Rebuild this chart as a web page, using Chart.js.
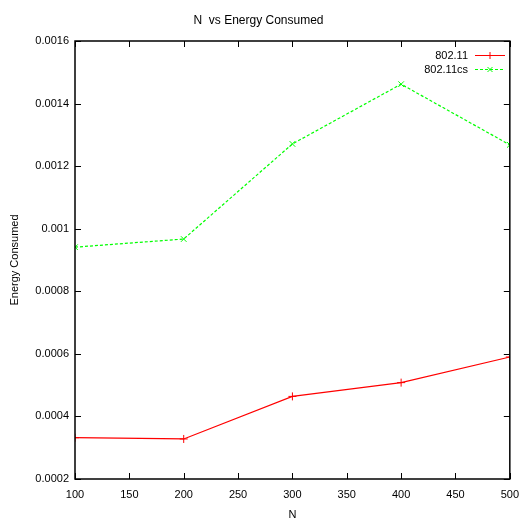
<!DOCTYPE html>
<html>
<head>
<meta charset="utf-8">
<script src="https://cdn.jsdelivr.net/npm/chart.js@4"></script>
<style>
html,body{margin:0;padding:0;background:#fff;}
#wrap{width:528px;height:524px;position:relative;}
</style>
</head>
<body>
<div id="wrap"><canvas id="c" width="528" height="524"></canvas></div>
<script>
const xValues = [100, 200, 300, 400, 500];
const series80211 = [0.000332, 0.000328, 0.000464, 0.000508, 0.000590];
const series80211cs = [0.000941, 0.000967, 0.001271, 0.001462, 0.001268];
const seriesNames = ['802.11', '802.11cs'];
const xTicks = [100, 150, 200, 250, 300, 350, 400, 450, 500];
const yTicks = [0.0002, 0.0004, 0.0006, 0.0008, 0.001, 0.0012, 0.0014, 0.0016];
const yTickLabels = ['0.0002', '0.0004', '0.0006', '0.0008', '0.001', '0.0012', '0.0014', '0.0016'];
const chartTitle = 'N  vs Energy Consumed';
const xTitle = 'N';
const yTitle = 'Energy Consumed';

const FONT = "'Liberation Sans', Arial, sans-serif";

const frame = {
  id: 'frame',
  afterDatasetsDraw(chart) {
    const ctx = chart.ctx;
    const a = chart.chartArea;
    const xs = chart.scales.x, ys = chart.scales.y;
    ctx.save();
    ctx.strokeStyle = '#000';
    ctx.lineWidth = 1;
    ctx.beginPath();
    const L = 6;
    xTicks.forEach(v => {
      const p = Math.round(xs.getPixelForValue(v)) + 0.5;
      ctx.moveTo(p, a.bottom); ctx.lineTo(p, a.bottom - L);
      ctx.moveTo(p, a.top); ctx.lineTo(p, a.top + L);
    });
    yTicks.forEach(v => {
      const p = Math.round(ys.getPixelForValue(v)) + 0.5;
      ctx.moveTo(a.left, p); ctx.lineTo(a.left + L, p);
      ctx.moveTo(a.right, p); ctx.lineTo(a.right - L, p);
    });
    ctx.stroke();
    ctx.lineWidth = 1.5;
    ctx.strokeRect(a.left, a.top, a.right - a.left, a.bottom - a.top);

    // legend (gnuplot style: text then sample)
    ctx.font = '11px ' + FONT;
    ctx.textAlign = 'right';
    ctx.textBaseline = 'middle';
    const rows = [55.5, 69.5];
    chart.data.datasets.forEach((ds, i) => {
      const y = rows[i];
      ctx.fillStyle = '#000';
      ctx.fillText(ds.label, 468, y + 0.5);
      ctx.strokeStyle = ds.borderColor;
      ctx.lineWidth = 1;
      ctx.setLineDash(ds.borderDash || []);
      ctx.beginPath();
      ctx.moveTo(475, y); ctx.lineTo(505, y);
      ctx.stroke();
      ctx.setLineDash([]);
      const cx = 490, r = 3.5;
      ctx.beginPath();
      if (ds.pointStyle === 'cross') {
        ctx.moveTo(cx - r, y); ctx.lineTo(cx + r, y);
        ctx.moveTo(cx, y - r); ctx.lineTo(cx, y + r);
      } else {
        ctx.moveTo(cx - 2.5, y - 2.5); ctx.lineTo(cx + 2.5, y + 2.5);
        ctx.moveTo(cx - 2.5, y + 2.5); ctx.lineTo(cx + 2.5, y - 2.5);
      }
      ctx.stroke();
    });
    ctx.restore();
  }
};

new Chart(document.getElementById('c'), {
  type: 'line',
  data: {
    datasets: [
      {
        label: seriesNames[0],
        data: xValues.map((x, i) => ({x: x, y: series80211[i]})),
        borderColor: '#ff0000',
        backgroundColor: '#ff0000',
        borderWidth: 1.2,
        pointStyle: 'cross',
        pointRadius: 4,
        pointBorderWidth: 1,
        tension: 0,
        fill: false
      },
      {
        label: seriesNames[1],
        data: xValues.map((x, i) => ({x: x, y: series80211cs[i]})),
        borderColor: '#00ff00',
        backgroundColor: '#00ff00',
        borderWidth: 1.2,
        borderDash: [3, 2],
        pointStyle: 'crossRot',
        pointRadius: 4,
        pointBorderWidth: 1,
        tension: 0,
        fill: false
      }
    ]
  },
  options: {
    responsive: false,
    animation: false,
    devicePixelRatio: 1,
    layout: {padding: {left: 0, right: 11, top: 0, bottom: 0}},
    plugins: {
      legend: {display: false},
      tooltip: {enabled: false},
      title: {
        display: true,
        text: chartTitle,
        color: '#000',
        font: {family: FONT, size: 12, weight: 'normal'},
        padding: {top: 13, bottom: 13.6}
      }
    },
    scales: {
      x: {
        type: 'linear',
        min: 100, max: 500,
        grid: {display: false, drawTicks: false},
        border: {display: false},
        afterBuildTicks(s) { s.ticks = xTicks.map(v => ({value: v})); },
        afterFit(s) { s.height = 45; },
        ticks: {
          color: '#000',
          font: {family: FONT, size: 11},
          padding: 9,
          maxRotation: 0,
          autoSkip: false,
          callback: v => String(v)
        },
        title: {
          display: true, text: xTitle, color: '#000',
          font: {family: FONT, size: 11},
          padding: {top: 4, bottom: 2}
        }
      },
      y: {
        type: 'linear',
        min: 0.0002, max: 0.0016,
        grid: {display: false, drawTicks: false},
        border: {display: false},
        afterBuildTicks(s) { s.ticks = yTicks.map(v => ({value: v})); },
        afterFit(s) { s.width = 75; },
        ticks: {
          color: '#000',
          font: {family: FONT, size: 11},
          padding: 6,
          autoSkip: false,
          callback: (v) => {
            const i = yTicks.findIndex(t => Math.abs(t - v) < 1e-9);
            return i >= 0 ? yTickLabels[i] : '';
          }
        },
        title: {
          display: true, text: yTitle, color: '#000',
          font: {family: FONT, size: 11},
          padding: {top: 8, bottom: 0}
        }
      }
    }
  },
  plugins: [frame]
});
</script>
</body>
</html>
